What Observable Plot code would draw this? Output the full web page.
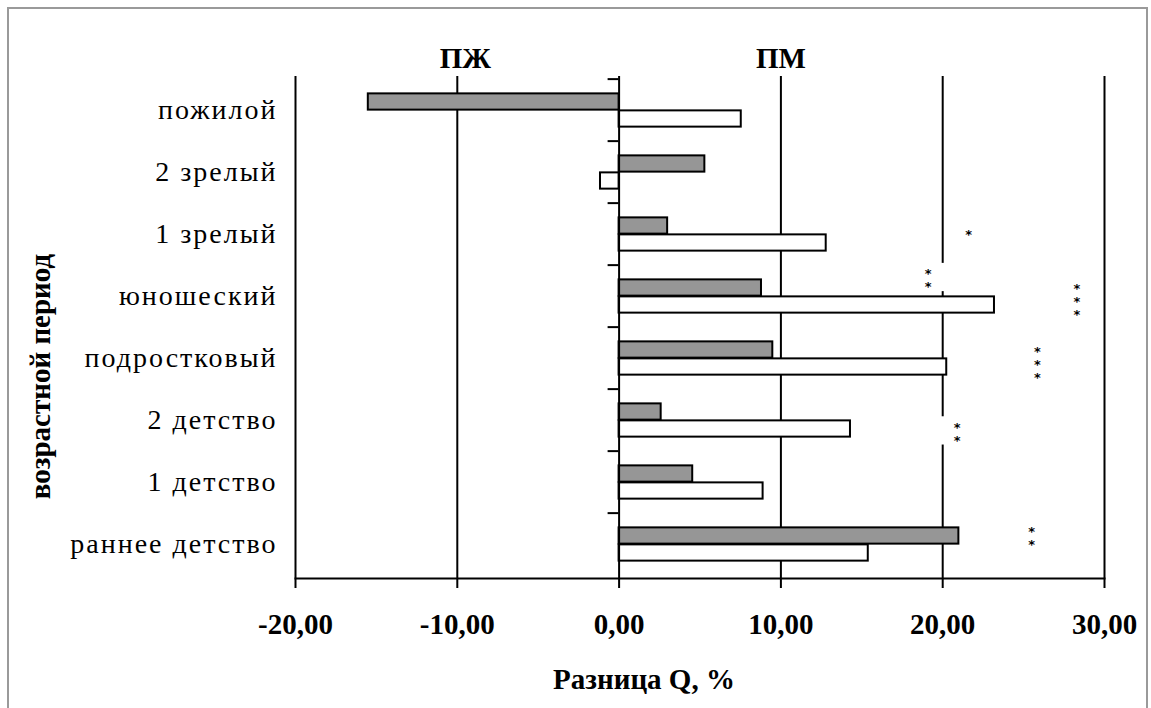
<!DOCTYPE html>
<html>
<head>
<meta charset="utf-8">
<script src="https://cdn.jsdelivr.net/npm/d3@7"></script>
<script src="https://cdn.jsdelivr.net/npm/@observablehq/plot@0.6"></script>
<style>
  body { margin: 0; background: #fff; }
  #wrap { position: relative; width: 1151px; height: 708px; overflow: hidden; background: #fff; }
  #border { position: absolute; left: 7px; top: 7px; width: 1141px; height: 760px; border: 2px solid #9a9a9a; box-sizing: border-box; }
  #chart { position: absolute; left: 0; top: 0; }
</style>
</head>
<body>
<div id="wrap"><div id="border"></div><div id="chart"></div></div>
<script>
// Age periods, listed top to bottom
const periods = ["пожилой", "2 зрелый", "1 зрелый", "юношеский", "подростковый", "2 детство", "1 детство", "раннее детство"];
// Difference Q, % — first (grey) and second (white) series
const seriesGrey = [-15.5, 5.3, 3.0, 8.8, 9.5, 2.6, 4.55, 21.0];
const seriesWhite = [7.55, -1.15, 12.8, 23.2, 20.25, 14.3, 8.9, 15.4];
// x axis ticks
const xTicks = [-20, -10, 0, 10, 20, 30];
// Significance marks
const sigPeriods = ["1 зрелый", "юношеский", "юношеский", "подростковый", "2 детство", "раннее детство"];
const sigX = [21.6, 19.1, 28.3, 25.85, 20.9, 25.5];
const sigStars = ["*", "**", "***", "***", "**", "**"];
// Group headers above the plot
const groupTitles = ["ПЖ", "ПМ"];
const groupTitleX = [-9.5, 10];

const rows = periods.map((p, i) => ({period: p, grey: seriesGrey[i], white: seriesWhite[i]}));
const sig = sigPeriods.map((p, i) => ({
  period: p, x: sigX[i], n: sigStars[i].length,
  stars: sigStars[i].split("").join("\n"),
  x1: sigX[i] - 1.1, x2: sigX[i] + 1.1
}));
const titles = groupTitles.map((t, i) => ({t, x: groupTitleX[i]}));

const W = 1151, H = 708;
const mL = 295, mR = 47, mT = 76, mB = 130;
const band = (H - mT - mB) / periods.length;
const barH = 17;
const starSize = 13;
// vertical nudges of the star labels within their rows
const starDy = [0, -16, 5, 6.6, 13.4, -6];

const fmt = d => d.toFixed(2).replace(".", ",");

// white label boxes behind the stars (they hide the grid line under a label)
const labelBoxes = sig.map((s, i) => {
  const c = starDy[i] - 3;
  const h = s.n * starSize / 2 + 1.5;
  return Plot.rect([s], {
    x1: "x1", x2: "x2", y: "period", fill: "white",
    insetTop: band / 2 + c - h, insetBottom: band / 2 - c - h
  });
});

const chart = Plot.plot({
  width: W,
  height: H,
  marginLeft: mL,
  marginRight: mR,
  marginTop: mT,
  marginBottom: mB,
  style: {fontFamily: "'Liberation Serif', 'Times New Roman', serif", color: "black", background: "transparent"},
  x: {domain: [-20, 30], nice: false},
  y: {domain: periods, padding: 0},
  marks: [
    Plot.gridX(xTicks.filter(d => d !== 0), {stroke: "black", strokeOpacity: 1, strokeWidth: 2}),
    ...labelBoxes,
    Plot.barX(rows, {
      y: "period", x: "grey", fill: "#969696", stroke: "black", strokeWidth: 2,
      insetTop: band / 2 - barH, insetBottom: band / 2
    }),
    Plot.barX(rows, {
      y: "period", x: "white", fill: "white", stroke: "black", strokeWidth: 2,
      insetTop: band / 2, insetBottom: band / 2 - barH
    }),
    Plot.ruleX([0], {stroke: "black", strokeWidth: 2}),
    // category boundary ticks on the zero line
    Plot.ruleY(periods, {y: d => d, x1: 0, x2: 0, insetLeft: -11, dy: -band / 2, stroke: "black", strokeWidth: 2}),
    Plot.frame({anchor: "bottom", stroke: "black", strokeWidth: 2}),
    Plot.axisX(xTicks, {
      tickSize: 10, tickPadding: 25, strokeWidth: 2,
      tickFormat: fmt, fontSize: 29, fontWeight: "bold", label: null
    }),
    Plot.axisY({tickSize: 0, tickPadding: 18, fontSize: 28, label: null}),
    ...sig.map((s, i) => Plot.text([s], {
      x: "x", y: "period", text: "stars", fontSize: starSize, lineHeight: 1,
      fontFamily: "'DejaVu Sans', sans-serif", fontWeight: "bold",
      fill: "black", dy: starDy[i]
    })),
    Plot.text(titles, {x: "x", text: "t", frameAnchor: "top", dy: -29, fontSize: 29, fontWeight: "bold"}),
    Plot.text(["возрастной период"], {
      frameAnchor: "left", textAnchor: "middle", dx: -255, dy: 49, rotate: -90,
      fontSize: 29, fontWeight: "bold", ariaLabel: "y-title"
    }),
    Plot.text(["Разница Q, %"], {
      frameAnchor: "bottom", dx: -56, dy: 110, fontSize: 29, fontWeight: "bold"
    })
  ]
});

// slightly wider letter spacing for the Cyrillic labels
d3.select(chart).selectAll('g[aria-label="y-axis tick label"] text').style("letter-spacing", "2px");
d3.select(chart).selectAll('g[aria-label="y-title"] text').style("letter-spacing", "3.2px");

document.getElementById("chart").appendChild(chart);
</script>
</body>
</html>
